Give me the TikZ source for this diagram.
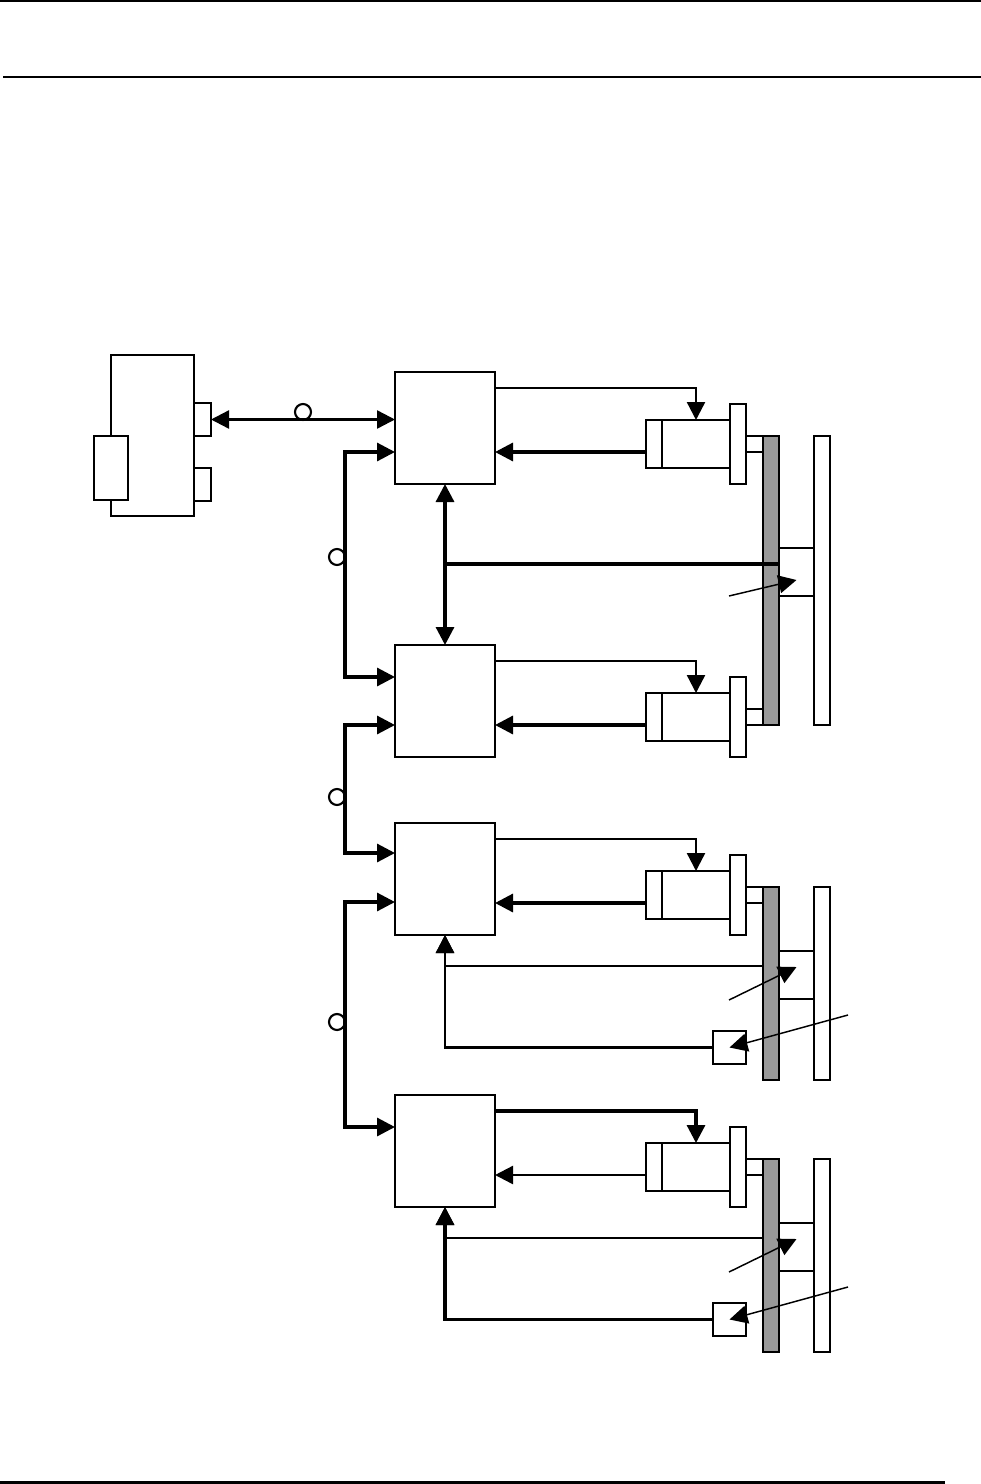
\documentclass[tikz,border=0pt]{standalone}
\usepackage{tikz}
\usetikzlibrary{arrows.meta, positioning}

\begin{document}
\begin{tikzpicture}[x=0.75pt, y=-0.75pt, >={Triangle[length=13.5pt,width=13.5pt]}]
    % Define styles for the nodes
    \tikzstyle{cell} = [
        draw, fill=white, line width=1.25pt, inner sep=0, outer sep=0
    ]
    \tikzstyle{ctl} = [cell, minimum width=75pt, minimum height=84pt]
    \tikzstyle{tab} = [cell, minimum width=12.75pt, minimum height=24.75pt]
    \tikzstyle{piston} = [cell, minimum width=12pt, minimum height=36pt]
    \tikzstyle{body} = [cell, minimum width=51pt, minimum height=36pt]
    \tikzstyle{flange} = [cell, minimum width=12pt, minimum height=60pt]
    \tikzstyle{stub} = [cell, minimum width=12.75pt, minimum height=12pt]
    \tikzstyle{block} = [cell, line width=0.9pt, minimum width=26.25pt, minimum height=36pt]
    \tikzstyle{sensor} = [cell, line width=1.5pt, minimum width=24.75pt, minimum height=24.75pt]
    \tikzstyle{ring} = [draw, circle, line width=1.6pt, minimum size=12pt, inner sep=0]
    \tikzstyle{link} = [line width=1.8pt]
    \tikzstyle{bus} = [line width=2.4pt]
    \tikzstyle{leader} = [line width=1.1pt]

    \useasboundingbox (0,0) rectangle (981,1484);

    % Page rules
    \draw[line width=1.5pt] (0,1) -- (981,1);
    \draw[line width=1.5pt] (3,77) -- (981,77);
    \draw[line width=2.25pt] (0,1482) -- (945,1482);

    % Device
    \node[cell, anchor=north west, minimum width=62.25pt, minimum height=120.75pt] (device) at (111,355) {};
    \node[tab, anchor=north west, yshift=-36pt] (taba) at (device.north east) {};
    \node[tab, anchor=north west, yshift=-84.75pt] (tabb) at (device.north east) {};
    \node[
        cell, anchor=north west, xshift=-12.75pt, yshift=-60.75pt,
        minimum width=25.5pt, minimum height=48pt
    ] (panel) at (device.north west) {};

    % Controllers
    \node[ctl, anchor=north west] (ctla) at (395,372) {};
    \node[ctl, below=120.75pt of ctla] (ctlb) {};
    \node[ctl, below=49.5pt of ctlb] (ctlc) {};
    \node[ctl, below=120pt of ctlc] (ctld) {};

    % Cylinder A
    \node[piston, right=113.25pt of ctla, yshift=-12pt] (pista) {};
    \node[body, anchor=west] (bodya) at (pista.east) {};
    \node[flange, anchor=west] (flangea) at (bodya.east) {};
    \node[stub, anchor=west] (stuba) at (flangea.east) {};

    % Cylinder B
    \node[piston, right=113.25pt of ctlb, yshift=-12pt] (pistb) {};
    \node[body, anchor=west] (bodyb) at (pistb.east) {};
    \node[flange, anchor=west] (flangeb) at (bodyb.east) {};
    \node[stub, anchor=west] (stubb) at (flangeb.east) {};

    % Cylinder C
    \node[piston, right=113.25pt of ctlc, yshift=-12pt] (pistc) {};
    \node[body, anchor=west] (bodyc) at (pistc.east) {};
    \node[flange, anchor=west] (flangec) at (bodyc.east) {};
    \node[stub, anchor=west] (stubc) at (flangec.east) {};

    % Cylinder D
    \node[piston, right=113.25pt of ctld, yshift=-12pt] (pistd) {};
    \node[body, anchor=west] (bodyd) at (pistd.east) {};
    \node[flange, anchor=west] (flanged) at (bodyd.east) {};
    \node[stub, anchor=west] (stubd) at (flanged.east) {};

    % Plates A and B
    \node[
        cell, anchor=north west, fill=black!40,
        minimum width=12pt, minimum height=216.75pt
    ] (greya) at (stuba.north east) {};
    \node[
        cell, anchor=north west, xshift=26.25pt,
        minimum width=12pt, minimum height=216.75pt
    ] (platea) at (greya.north east) {};
    \node[block, anchor=north west, yshift=-84pt] (blocka) at (greya.north east) {};

    % Plates C
    \node[
        cell, anchor=north west, fill=black!40,
        minimum width=12pt, minimum height=144.75pt
    ] (greyc) at (stubc.north east) {};
    \node[
        cell, anchor=north west, xshift=26.25pt,
        minimum width=12pt, minimum height=144.75pt
    ] (platec) at (greyc.north east) {};
    \node[block, anchor=north west, yshift=-48pt] (blockc) at (greyc.north east) {};
    \node[sensor, anchor=north east, yshift=-72pt] (sensorc) at (flangec.south east) {};

    % Plates D
    \node[
        cell, anchor=north west, fill=black!40,
        minimum width=12pt, minimum height=144.75pt
    ] (greyd) at (stubd.north east) {};
    \node[
        cell, anchor=north west, xshift=26.25pt,
        minimum width=12pt, minimum height=144.75pt
    ] (plated) at (greyd.north east) {};
    \node[block, anchor=north west, yshift=-48pt] (blockd) at (greyd.north east) {};
    \node[sensor, anchor=north east, yshift=-72pt] (sensord) at (flanged.south east) {};

    % Ports on the controllers
    \coordinate (outa) at ([yshift=-12pt]ctla.north east);
    \coordinate (outb) at ([yshift=-12pt]ctlb.north east);
    \coordinate (outc) at ([yshift=-12pt]ctlc.north east);
    \coordinate (outd) at ([yshift=-12pt]ctld.north east);
    \coordinate (reta) at ([yshift=-18pt]ctla.east);
    \coordinate (retb) at ([yshift=-18pt]ctlb.east);
    \coordinate (retc) at ([yshift=-18pt]ctlc.east);
    \coordinate (retd) at ([yshift=-18pt]ctld.east);
    \coordinate (busa) at ([yshift=-18pt]ctla.west);
    \coordinate (busb) at ([yshift=18pt]ctlb.west);
    \coordinate (busc) at ([yshift=-18pt]ctlb.west);
    \coordinate (busd) at ([yshift=19.5pt]ctlc.west);
    \coordinate (buse) at ([yshift=-17.25pt]ctlc.west);
    \coordinate (busf) at ([yshift=18pt]ctld.west);

    % Controllers to cylinders
    \draw[->, link] (outa) -| (bodya.north);
    \draw[->, link] (outb) -| (bodyb.north);
    \draw[->, link] (outc) -| (bodyc.north);
    \draw[->, bus] (outd) -| (bodyd.north);

    % Cylinders to controllers
    \draw[->, bus] (reta -| pista.west) -- (reta);
    \draw[->, bus] (retb -| pistb.west) -- (retb);
    \draw[->, bus] (retc -| pistc.west) -- (retc);
    \draw[->, link] (retd -| pistd.west) -- (retd);

    % Buses
    \draw[<->, link] (taba.east) -- (taba.east -| ctla.west);
    \draw[<->, bus] (busa) -- ++(-50,0) |- (busb);
    \draw[<->, bus] (busc) -- ++(-50,0) |- (busd);
    \draw[<->, bus] (buse) -- ++(-50,0) |- (busf);

    % Rings
    \node[ring] (ringa) at (303,412) {};
    \node[ring] (ringb) at (337,557) {};
    \node[ring] (ringc) at (337,797) {};
    \node[ring] (ringd) at (337,1022) {};

    % Feedback A
    \coordinate (linea) at ([yshift=6pt]blocka.center);
    \draw[<->, bus] (ctla.south) -- (ctlb.north);
    \draw[bus] (blocka.west |- linea) -- (linea -| ctla.south);

    % Feedback C
    \coordinate (linec) at ([yshift=6.75pt]blockc.center);
    \draw[->, link] (greyc.west |- linec) -| (ctlc.south);
    \draw[->, link] (sensorc.west) -| (ctlc.south);

    % Feedback D
    \coordinate (lined) at ([yshift=6.75pt]blockd.center);
    \draw[->, link] (greyd.west |- lined) -| (ctld.south);
    \draw[->, bus] (sensord.west) -| (ctld.south);

    % Leaders
    \coordinate (feeda) at (729,596);
    \coordinate (feedc) at (729,1000);
    \coordinate (feedd) at (729,1272);
    \coordinate (feede) at (848,1015);
    \coordinate (feedf) at (848,1287);
    \draw[->, leader] (feeda) -- ([yshift=-6pt]blocka.center);
    \draw[->, leader] (feedc) -- ([yshift=6pt]blockc.center);
    \draw[->, leader] (feedd) -- ([yshift=6pt]blockd.center);
    \draw[->, leader] (feede) -- (sensorc.center);
    \draw[->, leader] (feedf) -- (sensord.center);

\end{tikzpicture}
\end{document}
